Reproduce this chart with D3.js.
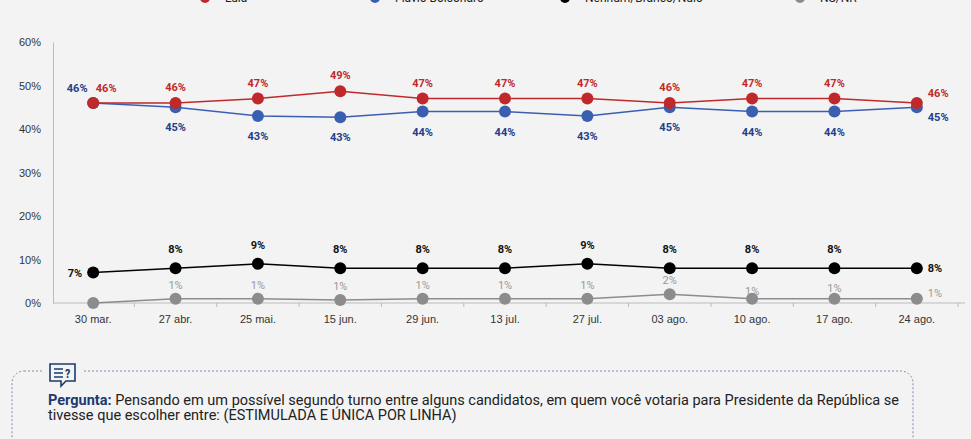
<!DOCTYPE html><html><head><meta charset="utf-8"><script src="https://cdn.jsdelivr.net/npm/d3@7"></script>
<style>body{margin:0;background:#f3f3f3;font-family:"Liberation Sans Narrow","Roboto Condensed",Roboto,sans-serif}</style></head><body><svg id="c" width="971" height="439"></svg>
<script>
const categories=["30 mar.","27 abr.","25 mai.","15 jun.","29 jun.","13 jul.","27 jul.","03 ago.","10 ago.","17 ago.","24 ago."];
const lula=[46,46,47,48.7,47,47,47,46,47,47,46];
const lulaLbl=[46,46,47,49,47,47,47,46,47,47,46];
const flavio=[46,45,43,42.7,44,44,43,45,44,44,45];
const flavioLbl=[46,45,43,43,44,44,43,45,44,44,45];
const nenhum=[7,8,9,8,8,8,9,8,8,8,8];
const nsnr=[0,1,1,0.7,1,1,1,2,1,1,1];
const nsnrLbl=[null,1,1,1,1,1,1,2,1,1,1];
const yTicks=[0,10,20,30,40,50,60];
const legend=["Lula","Flávio Bolsonaro","Nenhum/Branco/Nulo","NS/NR"];
const svg=d3.select("#c");
const x=d3.scaleBand().domain(categories).range([52,958]);
const y=d3.scaleLinear().domain([0,60]).range([303,42]);
const cx=d=>x(d)+x.bandwidth()/2;
const ya=svg.append("g").attr("transform","translate(53,0)").call(d3.axisLeft(y).tickValues(yTicks).tickFormat(d=>d+"%").tickSize(0).tickPadding(12));
ya.select(".domain").attr("stroke","#bbb");
ya.selectAll("text").attr("font-size",11).attr("fill","#333");
const xa=svg.append("g").attr("transform","translate(0,303)").call(d3.axisBottom(x).tickSize(0).tickPadding(12));
xa.select(".domain").attr("d","M53,0H965").attr("stroke","#bbb");
xa.selectAll("text").attr("font-size",11).attr("fill","#333");
x.domain().forEach((c,i)=>svg.append("line").attr("x1",x(c)+x.bandwidth()).attr("x2",x(c)+x.bandwidth()).attr("y1",303).attr("y2",307).attr("stroke","#bbb"));
const series=[
 {v:nsnr,l:nsnrLbl,c:"#8c8c8c",lc:"#9a9a9a",off:-10,fw:"normal"},
 {v:nenhum,l:nenhum,c:"#000",lc:"#111",off:-15,fw:"bold"},
 {v:flavio,l:flavioLbl,c:"#3a5fb0",lc:"#22408a",off:24,fw:"bold"},
 {v:lula,l:lulaLbl,c:"#c0292b",lc:"#c0292b",off:-12,fw:"bold"}];
series.forEach((s,si)=>{
 const line=d3.line().x((d,i)=>cx(categories[i])).y(d=>y(d));
 svg.append("path").attr("d",line(s.v)).attr("fill","none").attr("stroke",s.c).attr("stroke-width",1.5);
 svg.selectAll(null).data(s.v).join("circle").attr("cx",(d,i)=>cx(categories[i])).attr("cy",d=>y(d)).attr("r",6).attr("fill",s.c);
 s.v.forEach((d,i)=>{
  if(s.l[i]==null)return;
  let tx=cx(categories[i]),ty=y(d)+s.off,anchor="middle";
  const last=i===categories.length-1;
  if(si===0&&i===8)ty=y(d)-4;
  if(si===0&&i===9)ty=y(d)-7;
  if(si===1&&(i===0||last)){tx+=last?11:-11;ty=y(d)+4;anchor=last?"start":"end";}
  if(si===0&&last){tx+=11;ty=y(d)-2;anchor="start";}
  if(si===3&&i===0){tx+=13;ty=y(d)-11;}
  if(si===3&&last){tx+=11;ty=y(d)-6;anchor="start";}
  if(si===2&&i===0){tx-=16;ty=y(d)-11;}
  if(si===2&&last){tx+=11;ty=y(d)+14;anchor="start";}
  svg.append("text").attr("x",tx).attr("y",ty).attr("text-anchor",anchor).attr("font-size",11).attr("font-weight",s.fw).attr("fill",s.lc).attr("font-family","Roboto,sans-serif").text(s.l[i]+"%");
 });
});
const lc=["#c0292b","#3a5fb0","#000","#8c8c8c"];
const lxs=[205,375,565,800];
legend.forEach((t,i)=>{
 svg.append("line").attr("x1",lxs[i]-12).attr("x2",lxs[i]+12).attr("y1",-2).attr("y2",-2).attr("stroke",lc[i]).attr("stroke-width",2);
 svg.append("circle").attr("cx",lxs[i]).attr("cy",-2).attr("r",5).attr("fill",lc[i]);
 svg.append("text").attr("x",lxs[i]+20).attr("y",2).attr("font-size",12).attr("fill","#222").attr("font-family","Roboto,sans-serif").text(t);
});
svg.append("rect").attr("x",12).attr("y",371).attr("width",901).attr("height",120).attr("rx",12).attr("fill","none").attr("stroke","#7a8fb0").attr("stroke-dasharray","2,2");
svg.append("rect").attr("x",44).attr("y",360).attr("width",38).attr("height",28).attr("fill","#f3f3f3");
const ic=svg.append("g").attr("transform","translate(49,363)");
ic.append("path").attr("d","M1,1H26V18H17L12,23V18H1Z").attr("fill","none").attr("stroke","#1d3a6e").attr("stroke-width",1.6);
ic.append("path").attr("d","M5,6H14M5,10H14M5,14H14").attr("stroke","#1d3a6e").attr("stroke-width",1.5);
ic.append("text").attr("x",16).attr("y",15).attr("font-size",12).attr("font-weight","bold").attr("fill","#1d3a6e").text("?");
const q=svg.append("text").attr("x",48).attr("y",405).attr("font-size",14.5).attr("fill","#222").attr("font-family","Roboto,sans-serif");
q.append("tspan").attr("font-weight","bold").attr("fill","#1d3a6e").text("Pergunta:");
q.append("tspan").text(" Pensando em um possível segundo turno entre alguns candidatos, em quem você votaria para Presidente da República se");
svg.append("text").attr("x",48).attr("y",420).attr("font-size",14.5).attr("fill","#222").attr("font-family","Roboto,sans-serif").text("tivesse que escolher entre: (ESTIMULADA E ÚNICA POR LINHA)");
</script></body></html>
